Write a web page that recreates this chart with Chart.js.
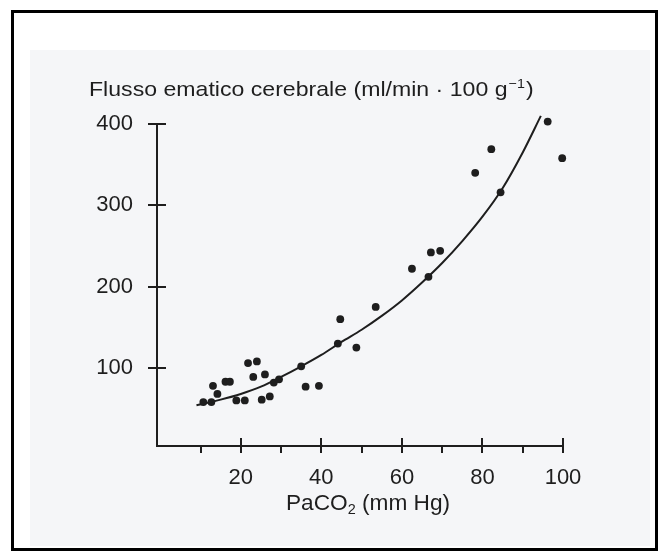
<!DOCTYPE html>
<html>
<head>
<meta charset="utf-8">
<script src="https://cdn.jsdelivr.net/npm/chart.js@4"></script>
<style>
  html, body { margin: 0; padding: 0; background: #ffffff; }
  #wrap { position: relative; width: 667px; height: 558px; overflow: hidden; }
  #scan { position: absolute; left: 30px; top: 50px; width: 620px; height: 496px; background: #f5f6f8; }
  #frame { position: absolute; left: 11px; top: 10px; width: 641px; height: 535px; border: 3px solid #000; }
  canvas { position: absolute; left: 0; top: 0; }
</style>
</head>
<body>
<div id="wrap">
  <div id="scan"></div>
  <div id="frame"></div>
  <canvas id="c" width="667" height="558"></canvas>
</div>
<script>
// ---- data ----
const xTickValues = [20, 40, 60, 80, 100];
const xMinorTickValues = [10, 30, 50, 70, 90];
const yTickValues = [100, 200, 300, 400];

const pointX = [10.7, 12.7, 14.2, 13.1, 16.2, 17.3, 18.9, 21.0, 21.8, 24.0, 23.1, 26.0, 25.2, 27.2, 28.2, 29.5, 35.0, 36.1, 39.4, 44.1, 44.7, 48.7, 53.5, 62.5, 66.6, 67.2, 69.5, 78.2, 82.2, 84.5, 96.2, 99.8];
const pointY = [58, 58, 68, 78, 83, 83, 60, 60, 106, 108, 89, 92, 61, 65, 82, 86, 102, 77, 78, 130, 160, 125, 175, 222, 212, 242, 244, 340, 369, 316, 403, 358];

const curveX = [9, 15, 20, 25, 30, 35, 40, 45, 50, 55, 60, 65, 70, 75, 80, 85, 90, 94.5];
const curveY = [54, 61, 68, 77, 89, 102, 116, 132, 147, 164, 183, 205, 229, 256, 286, 321, 365, 410];

const yTitle = 'Flusso ematico cerebrale (ml/min · 100 g';
const yTitleSup = '\u22121';
const yTitleEnd = ')';
const xTitleA = 'PaCO';
const xTitleSub = '2';
const xTitleB = ' (mm Hg)';

const INK = '#1e1e1e';
const FONT = '"Liberation Sans", Arial, Helvetica, sans-serif';

const tickPlugin = {
  id: 'crossTicks',
  afterDraw(chart) {
    const ctx = chart.ctx;
    const xs = chart.scales.x, ys = chart.scales.y;
    const area = chart.chartArea;
    ctx.save();
    ctx.strokeStyle = INK;
    ctx.lineWidth = 2;
    ctx.beginPath();
    xTickValues.forEach(v => {
      const px = Math.round(xs.getPixelForValue(v));
      ctx.moveTo(px, area.bottom - 8);
      ctx.lineTo(px, area.bottom + 7);
    });
    xMinorTickValues.forEach(v => {
      const px = Math.round(xs.getPixelForValue(v));
      ctx.moveTo(px, area.bottom);
      ctx.lineTo(px, area.bottom + 7);
    });
    yTickValues.forEach(v => {
      const py = Math.round(ys.getPixelForValue(v));
      ctx.moveTo(area.left - 9, py);
      ctx.lineTo(area.left + 9, py);
    });
    ctx.stroke();

    // titles
    ctx.fillStyle = INK;
    ctx.textBaseline = 'alphabetic';
    ctx.textAlign = 'left';
    ctx.save();
    ctx.translate(89, 96);
    ctx.scale(1.1, 1);
    ctx.font = '21px ' + FONT;
    let x = 0;
    ctx.fillText(yTitle, x, 0);
    x += ctx.measureText(yTitle).width + 1;
    ctx.font = '13px ' + FONT;
    ctx.fillText(yTitleSup, x, -8);
    x += ctx.measureText(yTitleSup).width + 1;
    ctx.font = '21px ' + FONT;
    ctx.fillText(yTitleEnd, x, 0);
    ctx.restore();

    ctx.save();
    ctx.translate(286, 510);
    ctx.scale(1.03, 1);
    ctx.font = '22px ' + FONT;
    x = 0;
    ctx.fillText(xTitleA, x, 0);
    x += ctx.measureText(xTitleA).width;
    ctx.font = '14px ' + FONT;
    ctx.fillText(xTitleSub, x, 4);
    x += ctx.measureText(xTitleSub).width;
    ctx.font = '22px ' + FONT;
    ctx.fillText(xTitleB, x, 0);
    ctx.restore();
    ctx.restore();
  }
};

new Chart(document.getElementById('c'), {
  type: 'scatter',
  data: {
    datasets: [
      {
        label: 'curve',
        data: curveX.map((v, i) => ({ x: v, y: curveY[i] })),
        showLine: true,
        pointRadius: 0,
        borderWidth: 2,
        borderColor: INK,
        tension: 0.4,
        cubicInterpolationMode: 'monotone',
        fill: false,
        clip: false
      },
      {
        label: 'points',
        data: pointX.map((v, i) => ({ x: v, y: pointY[i] })),
        pointRadius: 3.9,
        pointBorderWidth: 0,
        backgroundColor: INK,
        borderColor: INK,
        clip: false
      }
    ]
  },
  options: {
    responsive: false,
    animation: false,
    events: [],
    layout: { padding: { left: 0, right: 104, top: 124, bottom: 0 } },
    plugins: { legend: { display: false }, tooltip: { enabled: false }, title: { display: false } },
    scales: {
      x: {
        type: 'linear',
        min: -0.8,
        max: 100,
        afterFit(s) { s.height = 112; },
        afterBuildTicks(s) { s.ticks = xTickValues.map(v => ({ value: v })); },
        grid: { display: false },
        border: { display: true, width: 2, color: INK },
        ticks: { color: INK, font: { size: 22, family: FONT }, padding: 11, maxRotation: 0 }
      },
      y: {
        type: 'linear',
        min: 4,
        max: 400,
        afterFit(s) { s.width = 157; },
        afterBuildTicks(s) { s.ticks = yTickValues.map(v => ({ value: v })); },
        grid: { display: false },
        border: { display: true, width: 2, color: INK },
        ticks: { color: INK, font: { size: 22, family: FONT }, padding: 16 }
      }
    }
  },
  plugins: [tickPlugin]
});
</script>
</body>
</html>
